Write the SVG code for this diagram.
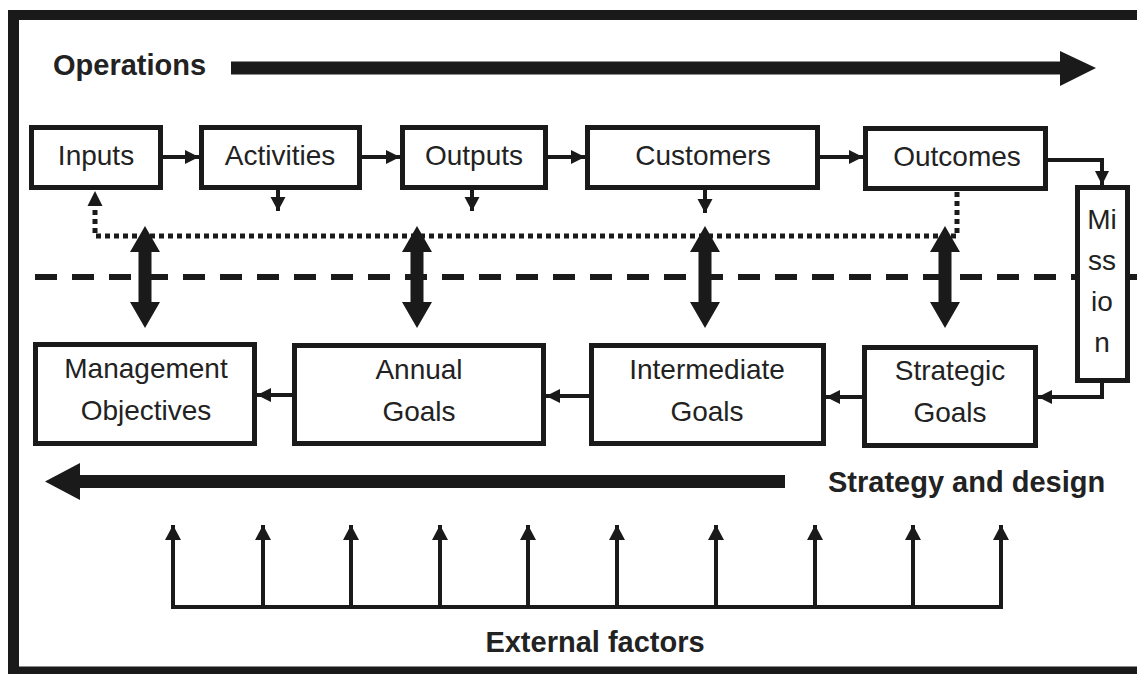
<svg xmlns="http://www.w3.org/2000/svg" width="1137" height="674" viewBox="0 0 1137 674">
<defs>
<marker id="ah" markerUnits="userSpaceOnUse" markerWidth="16" markerHeight="16" refX="14" refY="7" orient="auto"><path d="M0,0 L14,7 L0,14 z" fill="#1a1a1a"/></marker>
<marker id="ahs" markerUnits="userSpaceOnUse" markerWidth="16" markerHeight="16" refX="14" refY="7.5" orient="auto"><path d="M0,0 L14,7.5 L0,15 z" fill="#1a1a1a"/></marker>
<marker id="ahu" markerUnits="userSpaceOnUse" markerWidth="18" markerHeight="18" refX="15" refY="8" orient="auto"><path d="M0,0 L15,8 L0,16 z" fill="#1a1a1a"/></marker>
<style>
.box{fill:#fff;stroke:#1a1a1a;stroke-width:5}
.t{font-family:"Liberation Sans",Arial,sans-serif;font-size:28px;fill:#222;text-anchor:middle}
.b{font-family:"Liberation Sans",Arial,sans-serif;font-size:29px;font-weight:bold;fill:#222}
.c{fill:none;stroke:#1a1a1a;stroke-width:4}
.dot{fill:none;stroke:#1a1a1a;stroke-width:5;stroke-dasharray:5 4}
.dash{fill:none;stroke:#1a1a1a;stroke-width:6;stroke-dasharray:22 15}
.big{fill:#1a1a1a}
</style>
</defs>
<rect width="1137" height="674" fill="#fff"/>
<g id="frame" fill="none" stroke="#1a1a1a">
<line x1="8" y1="15" x2="1137" y2="15" stroke-width="10"/>
<line x1="13.5" y1="10" x2="13.5" y2="674" stroke-width="11"/>
<line x1="8" y1="670.5" x2="1137" y2="670.5" stroke-width="8"/>
</g>
<g id="operations">
<text class="b" x="53" y="75">Operations</text>
<rect class="big" x="231" y="61.5" width="830" height="13"/>
<polygon class="big" points="1060,51 1096,68 1060,86"/>
</g>
<g id="strategy">
<text class="b" x="828" y="492">Strategy and design</text>
<rect class="big" x="79" y="475" width="706" height="13"/>
<polygon class="big" points="80,463 45,481.5 80,500"/>
</g>
<g id="connectors">
<line class="c" x1="163" y1="157" x2="199" y2="157" marker-end="url(#ah)"/>
<line class="c" x1="362" y1="157" x2="400" y2="157" marker-end="url(#ah)"/>
<line class="c" x1="548" y1="157" x2="585" y2="157" marker-end="url(#ah)"/>
<line class="c" x1="820" y1="157" x2="863" y2="157" marker-end="url(#ah)"/>
<path class="c" d="M1048,160 H1102 V185" marker-end="url(#ah)"/>
<line class="c" x1="278" y1="190" x2="278" y2="211" marker-end="url(#ahs)"/>
<line class="c" x1="472" y1="190" x2="472" y2="211" marker-end="url(#ahs)"/>
<line class="c" x1="705" y1="190" x2="705" y2="213" marker-end="url(#ahs)"/>
<path class="dot" d="M957,192 V236 H95 V205"/>
<polygon class="big" points="95,191 102.5,206 87.5,206"/>
<line class="dash" x1="35" y1="277" x2="1075" y2="277"/>
<line x1="1130" y1="277" x2="1137" y2="277" stroke="#1a1a1a" stroke-width="6"/>
<polygon class="big" points="145,226 160,252 151.5,252 151.5,302 160,302 145,328 130,302 138.5,302 138.5,252 130,252"/>
<polygon class="big" points="417,226 432,252 423.5,252 423.5,302 432,302 417,328 402,302 410.5,302 410.5,252 402,252"/>
<polygon class="big" points="705,226 720,252 711.5,252 711.5,302 720,302 705,328 690,302 698.5,302 698.5,252 690,252"/>
<polygon class="big" points="945,226 960,252 951.5,252 951.5,302 960,302 945,328 930,302 938.5,302 938.5,252 930,252"/>
<line class="c" x1="292" y1="395" x2="257" y2="395" marker-end="url(#ah)"/>
<line class="c" x1="589" y1="396" x2="546" y2="396" marker-end="url(#ah)"/>
<line class="c" x1="862" y1="397" x2="826" y2="397" marker-end="url(#ah)"/>
<path class="c" d="M1102,383 V397 H1038" marker-end="url(#ah)"/>
</g>
<g id="external">
<path class="c" d="M173,540 V607 H1001 V540"/>
<g class="c" marker-end="url(#ahu)">
<line x1="173" y1="607" x2="173" y2="525"/>
<line x1="263" y1="607" x2="263" y2="525"/>
<line x1="351" y1="607" x2="351" y2="525"/>
<line x1="440" y1="607" x2="440" y2="525"/>
<line x1="528" y1="607" x2="528" y2="525"/>
<line x1="617" y1="607" x2="617" y2="525"/>
<line x1="716" y1="607" x2="716" y2="525"/>
<line x1="815" y1="607" x2="815" y2="525"/>
<line x1="913" y1="607" x2="913" y2="525"/>
<line x1="1001" y1="607" x2="1001" y2="525"/>
</g>
<text class="b" x="595" y="652" text-anchor="middle">External factors</text>
</g>
<g id="inputs"><rect class="box" x="31.5" y="127.5" width="129" height="60"/><text class="t" x="96" y="165">Inputs</text></g>
<g id="activities"><rect class="box" x="201.5" y="127.5" width="158" height="60"/><text class="t" x="280" y="165">Activities</text></g>
<g id="outputs"><rect class="box" x="402.5" y="127.5" width="143" height="60"/><text class="t" x="474" y="165">Outputs</text></g>
<g id="customers"><rect class="box" x="587.5" y="127.5" width="230" height="60"/><text class="t" x="703" y="165">Customers</text></g>
<g id="outcomes"><rect class="box" x="865.5" y="128.5" width="180" height="60"/><text class="t" x="957" y="166">Outcomes</text></g>
<g id="mission"><rect class="box" x="1077.5" y="187.5" width="50" height="193"/>
<text class="t" x="1102" y="229">Mi</text><text class="t" x="1102" y="270">ss</text><text class="t" x="1102" y="311">io</text><text class="t" x="1102" y="352">n</text></g>
<g id="management"><rect class="box" x="35.5" y="344.5" width="219" height="99"/><text class="t" x="146" y="378">Management</text><text class="t" x="146" y="420">Objectives</text></g>
<g id="annual"><rect class="box" x="294.5" y="345.5" width="249" height="98"/><text class="t" x="419" y="379">Annual</text><text class="t" x="419" y="421">Goals</text></g>
<g id="intermediate"><rect class="box" x="591.5" y="345.5" width="232" height="98"/><text class="t" x="707" y="379">Intermediate</text><text class="t" x="707" y="421">Goals</text></g>
<g id="strategic"><rect class="box" x="864.5" y="347.5" width="171" height="98"/><text class="t" x="950" y="380">Strategic</text><text class="t" x="950" y="422">Goals</text></g>
</svg>
